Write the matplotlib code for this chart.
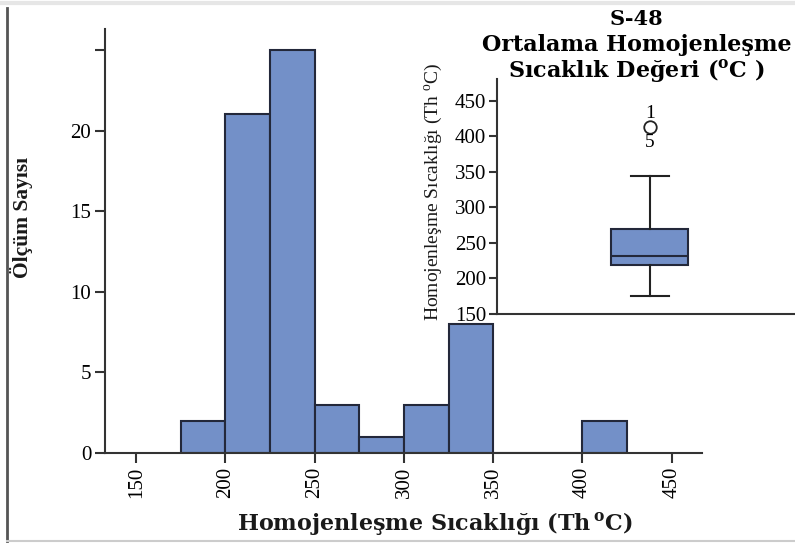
import numpy as np
import matplotlib
matplotlib.use('Agg')
import matplotlib.pyplot as plt

plt.rcParams['mathtext.fontset'] = 'custom'
plt.rcParams['mathtext.rm'] = 'Liberation Serif'
plt.rcParams['mathtext.bf'] = 'DejaVu Serif:bold'

# histogram: bin edges (Th C) and counts
bin_edges = [175, 200, 225, 250, 275, 300, 325, 350, 375, 400, 425]
counts = [2, 21, 25, 3, 1, 3, 8, 0, 0, 2]
x_ticks = [150, 200, 250, 300, 350, 400, 450]
y_ticks = [0, 5, 10, 15, 20, 25]
y_tick_labels = ['0', '5', '10', '15', '20', '']

# box plot summary
box_q1 = 219
box_med = 231
box_q3 = 270
box_lo = 175
box_hi = 345
box_fliers = [413]
flier_labels = ['1', '5']
inset_ticks = [150, 200, 250, 300, 350, 400, 450]

fill = '#7390c8'
edge = '#23283a'
serif = ['Liberation Serif', 'DejaVu Serif']

fig = plt.figure(figsize=(7.95, 5.44), dpi=100)

# scan-like frame
fig.add_artist(plt.Line2D([0.009, 0.009], [0.005, 0.985], color='#555555', lw=2.0))
fig.add_artist(plt.Line2D([0.009, 1.0], [0.006, 0.006], color='#cccccc', lw=1.5))
fig.add_artist(plt.Line2D([0.0, 1.0], [0.994, 0.994], color='#e6e6e6', lw=3))

ax = fig.add_axes([0.1321, 0.1673, 0.751, 0.7794])
widths = np.diff(bin_edges)
ax.bar(bin_edges[:-1], counts, width=widths, align='edge', color=fill,
       edgecolor=edge, linewidth=1.5)
ax.set_xlim(132.5, 467)
ax.set_ylim(0, 26.3)
for s in ['top', 'right']:
    ax.spines[s].set_visible(False)
for s in ['left', 'bottom']:
    ax.spines[s].set_color('#333333')
    ax.spines[s].set_linewidth(1.5)
ax.set_xticks(x_ticks)
ax.set_xticklabels([str(v) for v in x_ticks], rotation=90, fontfamily=serif, fontsize=15)
ax.set_yticks(y_ticks)
ax.set_yticklabels(y_tick_labels, fontfamily=serif, fontsize=15)
ax.tick_params(direction='out', length=7, width=1.5, color='#333333', pad=3)
ax.set_xlabel(r'Homojenleşme Sıcaklığı (Th$\,^{\mathbf{o}}$C)', fontfamily=['DejaVu Serif'],
              fontweight='bold', fontsize=16, color='#1a1a1a')
ax.xaxis.set_label_coords(0.553, -0.135)
ax.set_ylabel('Ölçüm Sayısı', fontfamily=serif,
              fontweight='bold', fontsize=15.5, color='#1a1a1a')
ax.yaxis.set_label_coords(-0.12, 0.555)

# inset box plot
ins = fig.add_axes([0.6252, 0.4228, 0.3748, 0.432])
stats = [dict(med=box_med, q1=box_q1, q3=box_q3, whislo=box_lo, whishi=box_hi,
              fliers=box_fliers)]
ins.bxp(stats, positions=[0.513], widths=0.258, capwidths=0.128, patch_artist=True,
        boxprops=dict(facecolor=fill, edgecolor=edge, linewidth=1.5),
        medianprops=dict(color=edge, linewidth=1.5),
        whiskerprops=dict(color='#222222', linewidth=1.5),
        capprops=dict(color='#222222', linewidth=1.5),
        flierprops=dict(marker='o', markerfacecolor='none', markeredgecolor='#222222',
                        markersize=9, markeredgewidth=1.3))
ins.text(0.513, box_fliers[0] + 20, flier_labels[0], ha='center', va='center',
         fontfamily=serif, fontsize=14)
ins.text(0.513, box_fliers[0] - 22, flier_labels[1], ha='center', va='center',
         fontfamily=serif, fontsize=14)
ins.set_xlim(0, 1)
ins.set_ylim(150, 481)
ins.set_facecolor('none')
for s in ['top', 'right']:
    ins.spines[s].set_visible(False)
for s in ['left', 'bottom']:
    ins.spines[s].set_color('#333333')
    ins.spines[s].set_linewidth(1.5)
ins.set_xticks([])
ins.set_yticks(inset_ticks)
ins.set_yticklabels([str(v) for v in inset_ticks], fontfamily=serif, fontsize=15)
ins.tick_params(axis='y', direction='out', length=6, width=1.5, color='#333333', pad=2)
ins.set_ylabel(r'Homojenleşme Sıcaklığı (Th $^{\mathrm{o}}$C)', fontfamily=serif,
               fontsize=14, color='#1a1a1a')
ins.yaxis.set_label_coords(-0.175, 0.52)

fig.text(0.801, 0.965, 'S-48', ha='center', va='center', fontfamily=['DejaVu Serif'],
         fontweight='bold', fontsize=15)
fig.text(0.801, 0.917, 'Ortalama Homojenleşme', ha='center', va='center',
         fontfamily=['DejaVu Serif'], fontweight='bold', fontsize=16)
fig.text(0.801, 0.870, r'Sıcaklık Değeri ($^{\mathbf{o}}$C )', ha='center', va='center',
         fontfamily=['DejaVu Serif'], fontweight='bold', fontsize=16)

fig.savefig('out.png', dpi=100)
